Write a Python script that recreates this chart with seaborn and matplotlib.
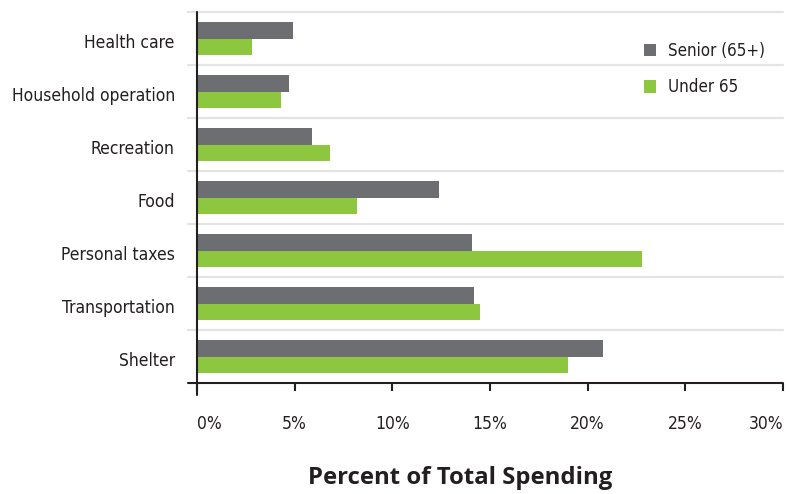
import matplotlib
matplotlib.use("Agg")
import matplotlib.pyplot as plt
import matplotlib.transforms as mtransforms
import pandas as pd
import seaborn as sns

categories = ["Health care", "Household operation", "Recreation", "Food",
              "Personal taxes", "Transportation", "Shelter"]
senior = [4.9, 4.7, 5.9, 12.4, 14.1, 14.2, 20.8]
under_65 = [2.8, 4.3, 6.8, 8.2, 22.8, 14.5, 19.0]
series_names = ["Senior (65+)", "Under 65"]
tick_values = [0, 5, 10, 15, 20, 25, 30]
tick_labels = ["0%", "5%", "10%", "15%", "20%", "25%", "30%"]

df = pd.DataFrame({
    "category": categories * 2,
    "group": [series_names[0]] * len(categories) + [series_names[1]] * len(categories),
    "share": senior + under_65,
})

sns.set_theme(style="white")
plt.rcParams["font.family"] = ["DejaVu Sans"]
plt.rcParams["font.stretch"] = "condensed"

fig = plt.figure(figsize=(7.9, 4.94), dpi=100)
ax = fig.add_axes([197 / 790, 1 - 383 / 494, (783 - 197) / 790, (383 - 12) / 494])

palette = {series_names[0]: "#6d6e71", series_names[1]: "#8dc63f"}
sns.barplot(data=df, y="category", x="share", hue="group", order=categories,
            hue_order=series_names, palette=palette, orient="h", width=0.62,
            saturation=1, ax=ax, legend=True, edgecolor="none", linewidth=0)

ax.set_xlim(0, 30)
ax.set_ylim(len(categories) - 0.5, -0.5)

for s in ax.spines.values():
    s.set_visible(False)

# category separators, reaching a little to the left of the axis
blend = mtransforms.blended_transform_factory(ax.transAxes, ax.transData)
for i in range(len(categories)):
    ax.plot([-0.016, 1.0], [i - 0.5, i - 0.5], color="#e4e4e4", lw=1.6,
            transform=blend, clip_on=False, zorder=0.5)

# axis lines, crossing at the origin
ax.plot([0, 0], [-0.032, 1.0], color="#231f20", lw=1.5,
        transform=ax.transAxes, clip_on=False, zorder=5)
ax.plot([-0.016, 1.0], [0, 0], color="#231f20", lw=1.5,
        transform=ax.transAxes, clip_on=False, zorder=5)

ax.set_xticks(tick_values)
ax.set_xticklabels(tick_labels)
ax.tick_params(axis="x", bottom=True, direction="out", length=6, width=1.5,
               color="#231f20", pad=17, labelsize=12.5, labelcolor="#231f20")
ax.tick_params(axis="y", left=False, pad=10, labelsize=12.5, labelcolor="#231f20")
xt = ax.get_xticklabels()
xt[0].set_ha("left")
xt[-1].set_ha("right")

# nudge category names slightly below the bar-pair centre
offset = mtransforms.ScaledTranslation(0, -2 / 100, fig.dpi_scale_trans)
for t in ax.get_yticklabels():
    t.set_transform(t.get_transform() + offset)

ax.set_ylabel("")
ax.set_xlabel("")
fig.text(460 / 790, 1 - 478 / 494, "Percent of Total Spending", ha="center",
         va="center", fontsize=17.2, fontweight="bold", color="#231f20",
         family="Open Sans", stretch="normal")

leg = ax.legend(loc="upper left", bbox_to_anchor=(637 / 790, 1 - 35 / 494),
                bbox_transform=fig.transFigure, frameon=False, fontsize=12.2,
                handlelength=0.75, handleheight=0.75, handletextpad=0.7,
                labelspacing=1.1, borderaxespad=0)
for t in leg.get_texts():
    t.set_color("#231f20")

fig.savefig("out.png", dpi=100)
